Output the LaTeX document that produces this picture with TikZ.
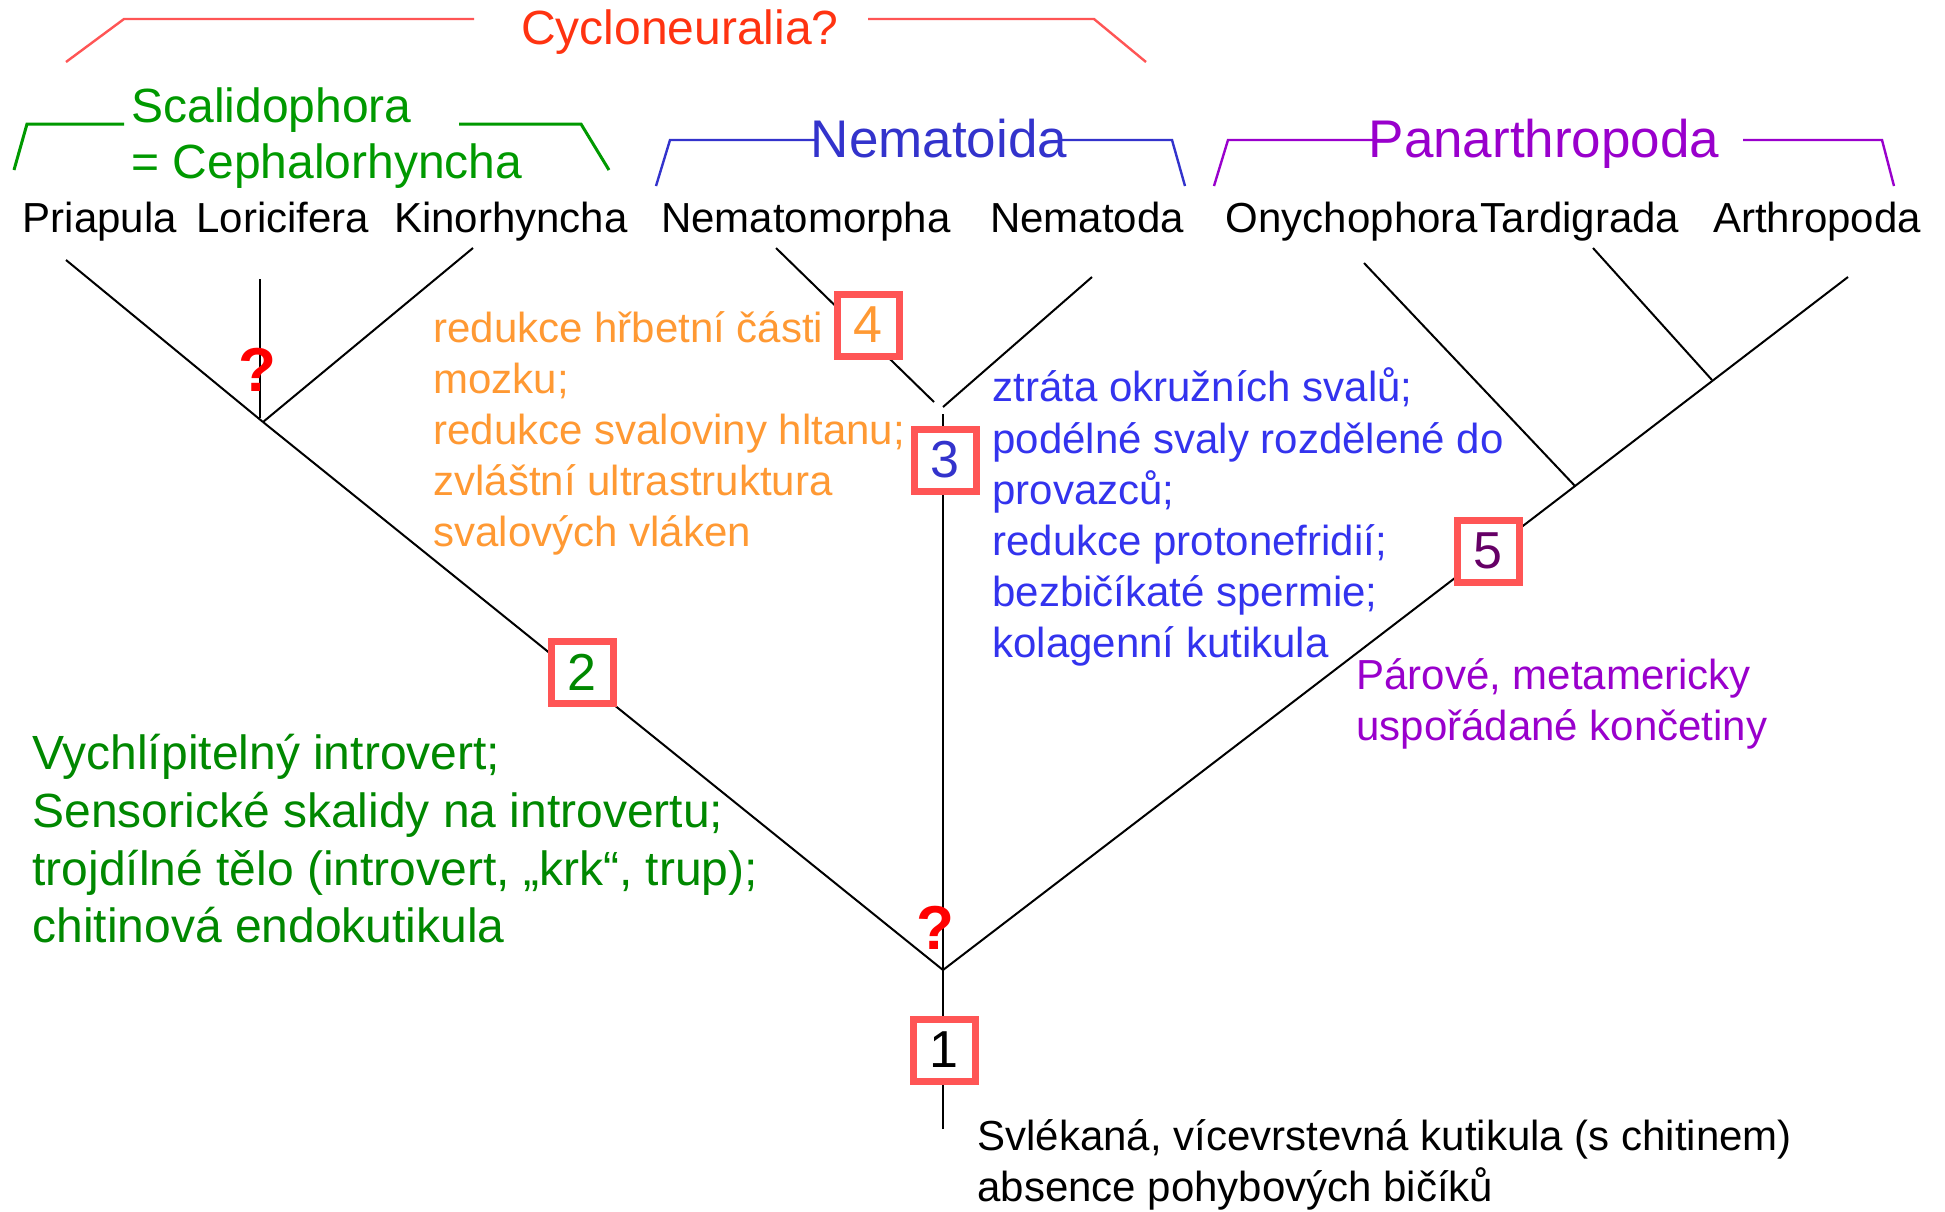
\documentclass[tikz,border=0pt]{standalone}
\usepackage{fontspec}
\setmainfont{Liberation Sans}
\definecolor{cyred}{HTML}{FF3311}
\definecolor{brred}{HTML}{FF5555}
\definecolor{scgreen}{HTML}{009900}
\definecolor{txgreen}{HTML}{008800}
\definecolor{nmblue}{HTML}{3333CC}
\definecolor{txblue}{HTML}{3333EE}
\definecolor{pnpurple}{HTML}{9900CC}
\definecolor{orng}{HTML}{FF9933}
\definecolor{darkpurp}{HTML}{660066}
\definecolor{qred}{HTML}{FF0000}
\begin{document}
\begin{tikzpicture}[x=0.5pt,y=-0.5pt,
  taxon/.style={font=\fontsize{21}{25}\selectfont, anchor=base, inner sep=0pt},
  txtline/.style={font=\fontsize{21}{25}\selectfont, anchor=base west, inner sep=0pt},
  bigline/.style={font=\fontsize{24}{29}\selectfont, anchor=base west, inner sep=0pt},
  head/.style={font=\fontsize{24}{29}\selectfont, anchor=base, inner sep=0pt},
  headbig/.style={font=\fontsize{26.5}{31}\selectfont, anchor=base, inner sep=0pt},
  branch/.style={draw=black, line width=1pt},
  bracket/.style={line width=1.2pt},
  numbox/.style={draw=brred, line width=3.5pt, fill=white, minimum size=31pt, inner sep=0pt, font=\fontsize{26}{30}\selectfont},
  qmark/.style={text=qred, font=\fontsize{31}{34}\selectfont\bfseries, inner sep=0pt}
]
\useasboundingbox[fill=white] (0,0) rectangle (1945,1211);

% ---------- brackets ----------
\node[head, text=cyred] (cyclo) at (680,44) {Cycloneuralia?};
\coordinate (cyA) at (66,62);
\coordinate (cyB) at (124,19);
\coordinate (cyC) at (474,19);
\coordinate (cyD) at (868,19);
\coordinate (cyE) at (1094,19);
\coordinate (cyF) at (1146,62);
\draw[bracket, brred] (cyA) -- (cyB) -- (cyC);
\draw[bracket, brred] (cyD) -- (cyE) -- (cyF);

\node[bigline, text=scgreen] (scal) at (131,122) {Scalidophora};
\node[bigline, text=scgreen] (ceph) at (131,178) {= Cephalorhyncha};
\coordinate (scA) at (14,170);
\coordinate (scB) at (27,124);
\coordinate (scC) at (124,124);
\coordinate (scD) at (459,124);
\coordinate (scE) at (581,124);
\coordinate (scF) at (609,170);
\draw[bracket, scgreen, line width=1.5pt] (scA) -- (scB) -- (scC);
\draw[bracket, scgreen, line width=1.5pt] (scD) -- (scE) -- (scF);

\coordinate (nmA) at (656,186);
\coordinate (nmB) at (670,140);
\coordinate (nmC) at (816,140);
\coordinate (nmD) at (1062,140);
\coordinate (nmE) at (1172,140);
\coordinate (nmF) at (1185,186);
\draw[bracket, nmblue] (nmA) -- (nmB) -- (nmC);
\draw[bracket, nmblue] (nmD) -- (nmE) -- (nmF);
\node[headbig, text=nmblue] (nemat) at (939,157) {Nematoida};

\coordinate (paA) at (1214,186);
\coordinate (paB) at (1228,140);
\coordinate (paC) at (1373,140);
\coordinate (paD) at (1743,140);
\coordinate (paE) at (1882,140);
\coordinate (paF) at (1894,186);
\draw[bracket, pnpurple] (paA) -- (paB) -- (paC);
\draw[bracket, pnpurple] (paD) -- (paE) -- (paF);
\node[headbig, text=pnpurple] (panar) at (1544,157) {Panarthropoda};

% ---------- taxa ----------
\node[taxon] (pri) at (100,232) {Priapula};
\node[taxon] (lor) at (283,232) {Loricifera};
\node[taxon] (kin) at (511,232) {Kinorhyncha};
\node[taxon] (nmm) at (806,232) {Nematomorpha};
\node[taxon] (nmd) at (1087,232) {Nematoda};
\node[taxon] (ony) at (1352,232) {Onychophora};
\node[taxon] (tar) at (1580,232) {Tardigrada};
\node[taxon] (art) at (1817,232) {Arthropoda};

% ---------- tree ----------
\coordinate (root) at (943,1129);
\coordinate (R) at (943,970);
\coordinate (S) at (263,422);
\coordinate (tPri) at (66,260);
\coordinate (tKin) at (473,248);
\coordinate (tLorTop) at (260,279);
\coordinate (tLorBot) at (260,418);
\coordinate (tNmm) at (776,248);
\coordinate (Nl) at (934,402);
\coordinate (tNmd) at (1092,277);
\coordinate (Nr) at (943,407);
\coordinate (Ntop) at (943,414);
\coordinate (tOny) at (1364,263);
\coordinate (jO) at (1575,486);
\coordinate (tTar) at (1593,248);
\coordinate (jT) at (1712,380);
\coordinate (tArt) at (1848,277);

\draw[branch] (root) -- (R);
\draw[branch] (R) -- (S);
\draw[branch] (S) -- (tPri);
\draw[branch] (S) -- (tKin);
\draw[branch] (tLorBot) -- (tLorTop);
\draw[branch] (R) -- (Ntop);
\draw[branch] (tNmm) -- (Nl);
\draw[branch] (tNmd) -- (Nr);
\draw[branch] (R) -- (tArt);
\draw[branch] (tOny) -- (jO);
\draw[branch] (tTar) -- (jT);

% ---------- question marks ----------
\node[qmark] (q1) at (257,370) {?};
\node[qmark] (q2) at (935,928) {?};

% ---------- numbered boxes ----------
\node[numbox, text=black] (b1) at (944,1050) {1};
\node[numbox, text=txgreen] (b2) at (582,672) {2};
\node[numbox, text=nmblue] (b3) at (945,460) {3};
\node[numbox, text=orng] (b4) at (868,325) {4};
\node[numbox, text=darkpurp] (b5) at (1488,551) {5};

% ---------- character texts ----------
\node[txtline, text=orng] (o1) at (433,342) {redukce hřbetní části};
\node[txtline, text=orng] (o2) at (433,393) {mozku;};
\node[txtline, text=orng] (o3) at (433,444) {redukce svaloviny hltanu;};
\node[txtline, text=orng] (o4) at (433,495) {zvláštní ultrastruktura};
\node[txtline, text=orng] (o5) at (433,546) {svalových vláken};

\node[txtline, text=txblue] (t1) at (992,401) {ztráta okružních svalů;};
\node[txtline, text=txblue] (t2) at (992,453) {podélné svaly rozdělené do};
\node[txtline, text=txblue] (t3) at (992,504) {provazců;};
\node[txtline, text=txblue] (t4) at (992,555) {redukce protonefridií;};
\node[txtline, text=txblue] (t5) at (992,606) {bezbičíkaté spermie;};
\node[txtline, text=txblue] (t6) at (992,657) {kolagenní kutikula};

\node[txtline, text=pnpurple] (p1) at (1356,689) {Párové, metamericky};
\node[txtline, text=pnpurple] (p2) at (1356,740) {uspořádané končetiny};

\node[bigline, text=txgreen] (g1) at (32,769) {Vychlípitelný introvert;};
\node[bigline, text=txgreen] (g2) at (32,827) {Sensorické skalidy na introvertu;};
\node[bigline, text=txgreen] (g3) at (32,885) {trojdílné tělo (introvert, „krk“, trup);};
\node[bigline, text=txgreen] (g4) at (32,942) {chitinová endokutikula};

\node[txtline] (k1) at (977,1150) {Svlékaná, vícevrstevná kutikula (s chitinem)};
\node[txtline] (k2) at (977,1201) {absence pohybových bičíků};
\end{tikzpicture}
\end{document}
